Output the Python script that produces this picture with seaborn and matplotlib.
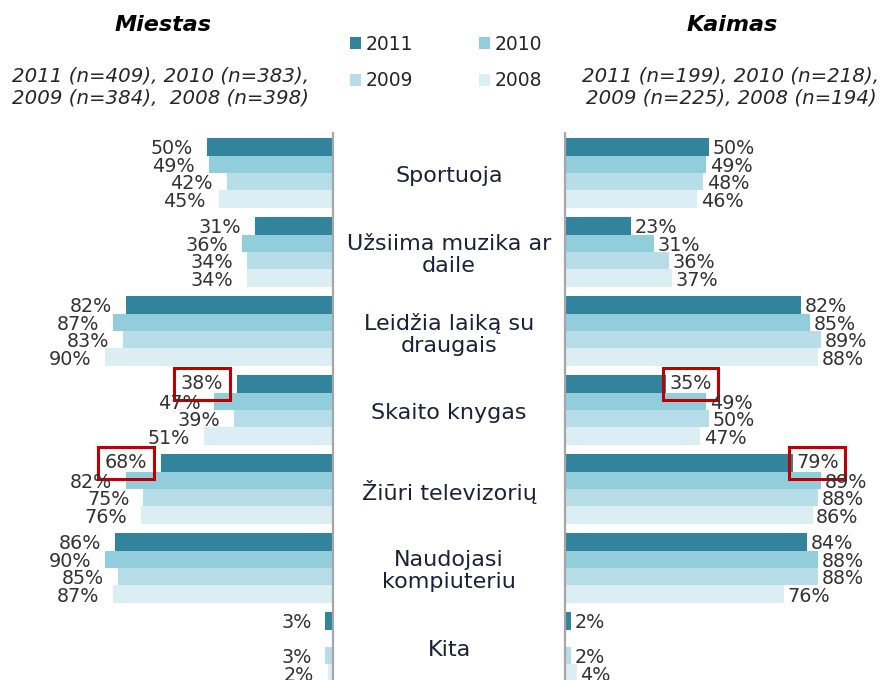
import numpy as np
import pandas as pd
import matplotlib
matplotlib.use("Agg")
import matplotlib.pyplot as plt
import matplotlib.transforms as mtransforms
from matplotlib.patches import Patch
import seaborn as sns

# ---------------- data ----------------
categories = ["Sportuoja", "Užsiima muzika ar\ndaile", "Leidžia laiką su\ndraugais",
              "Skaito knygas", "Žiūri televizorių", "Naudojasi\nkompiuteriu", "Kita"]
years = ["2011", "2010", "2009", "2008"]

miestas_2011 = [50, 31, 82, 38, 68, 86, 3]
miestas_2010 = [49, 36, 87, 47, 82, 90, np.nan]
miestas_2009 = [42, 34, 83, 39, 75, 85, 3]
miestas_2008 = [45, 34, 90, 51, 76, 87, 2]

kaimas_2011 = [50, 23, 82, 35, 79, 84, 2]
kaimas_2010 = [49, 31, 85, 49, 89, 88, np.nan]
kaimas_2009 = [48, 36, 89, 50, 88, 88, 2]
kaimas_2008 = [46, 37, 88, 47, 86, 76, 4]

highlight_year = "2011"
highlight_cats = ["Skaito knygas", "Žiūri televizorių"]

title_left = "Miestas"
sub_left = "2011 (n=409), 2010 (n=383),\n2009 (n=384),  2008 (n=398)"
title_right = "Kaimas"
sub_right = "2011 (n=199), 2010 (n=218),\n2009 (n=225), 2008 (n=194)"

colors = ["#31849B", "#92CDDC", "#B7DEE8", "#DAEEF3"]


def long_df(series):
    rows = []
    for y, vals in zip(years, series):
        for c, v in zip(categories, vals):
            if not np.isnan(v):
                rows.append({"category": c, "year": y, "value": v})
    return pd.DataFrame(rows)


df_m = long_df([miestas_2011, miestas_2010, miestas_2009, miestas_2008])
df_k = long_df([kaimas_2011, kaimas_2010, kaimas_2009, kaimas_2008])

# ---------------- style ----------------
sns.set_style("white")
plt.rcParams["font.family"] = ["DejaVu Sans"]

W, H = 885, 680
fig = plt.figure(figsize=(W / 100, H / 100), dpi=100)

top_px = 133
y_top = -(173 - top_px) / 79
y_bot = (H - 173) / 79


def px_axes(x0, x1):
    return fig.add_axes([x0 / W, 0, (x1 - x0) / W, (H - top_px) / H])


axL = px_axes(0, 333)
axM = px_axes(333, 565)
axR = px_axes(565, 885)

pct_color = "#333333"
cat_color = "#1F1F3A"
spine_color = "#A6A6A6"


def draw(ax, df, xlim, side):
    sns.barplot(data=df, y="category", x="value", hue="year", hue_order=years,
                order=categories, palette=colors, orient="h", width=0.886,
                saturation=1, linewidth=0, legend=False, ax=ax, errorbar=None)
    ax.set_xlim(*xlim)
    ax.set_ylim(y_bot, y_top)
    ax.set_xlabel("")
    ax.set_ylabel("")
    ax.set_xticks([])
    ax.set_yticks([])
    for s in ax.spines.values():
        s.set_visible(False)
    sp = ax.spines["right" if side == "left" else "left"]
    sp.set_visible(True)
    sp.set_color(spine_color)
    sp.set_linewidth(1.6)
    pad = 10 if side == "left" else 2.5
    for yr, cont in zip(years, ax.containers):
        texts = ax.bar_label(cont, fmt="%.0f%%", padding=pad, fontsize=13.8,
                             color=pct_color)
        present = [c for c in categories
                   if ((df.year == yr) & (df.category == c)).any()]
        for t, c in zip(texts, present):
            if yr == highlight_year and c in highlight_cats:
                t.xyann = (t.xyann[0], 0)
                t.set_bbox(dict(boxstyle="square,pad=0.35", facecolor="none",
                                edgecolor="#C00000", linewidth=2.2))
            else:
                t.xyann = (t.xyann[0], -1.5)


draw(axL, df_m, (333 / 2.53, 0), "left")
draw(axR, df_k, (0, 320 / 2.88), "right")

axM.set_ylim(y_bot, y_top)
axM.axis("off")
tr = mtransforms.blended_transform_factory(axM.transAxes, axM.transData)
for i, c in enumerate(categories):
    axM.text(0.5, i + 0.04, c, transform=tr, ha="center", va="center",
             fontsize=16, color=cat_color, linespacing=1.12)

# titles
fig.text(163 / W, 1 - 25 / H, title_left, ha="center", va="center",
         fontsize=16, fontweight="bold", fontstyle="italic", color="black")
fig.text(732 / W, 1 - 25 / H, title_right, ha="center", va="center",
         fontsize=16, fontweight="bold", fontstyle="italic", color="black")
fig.text(161 / W, 1 - 87 / H, sub_left, ha="center", va="center",
         fontsize=14.2, fontstyle="italic", color="#262626", linespacing=1.25)
fig.text(731 / W, 1 - 87 / H, sub_right, ha="center", va="center",
         fontsize=14.2, fontstyle="italic", color="#262626", linespacing=1.25)

# legend
handles = {y: Patch(facecolor=c, edgecolor="none", label=y) for y, c in zip(years, colors)}
order = ["2011", "2009", "2010", "2008"]
fig.legend(handles=[handles[y] for y in order], ncol=2, loc="upper left",
           bbox_to_anchor=(342 / W, 1 - 27 / H), frameon=False, fontsize=13.5,
           handlelength=0.6, handleheight=0.6, handletextpad=0.25,
           columnspacing=3.5, labelspacing=0.95, borderaxespad=0)

fig.savefig("out.png", dpi=100)
